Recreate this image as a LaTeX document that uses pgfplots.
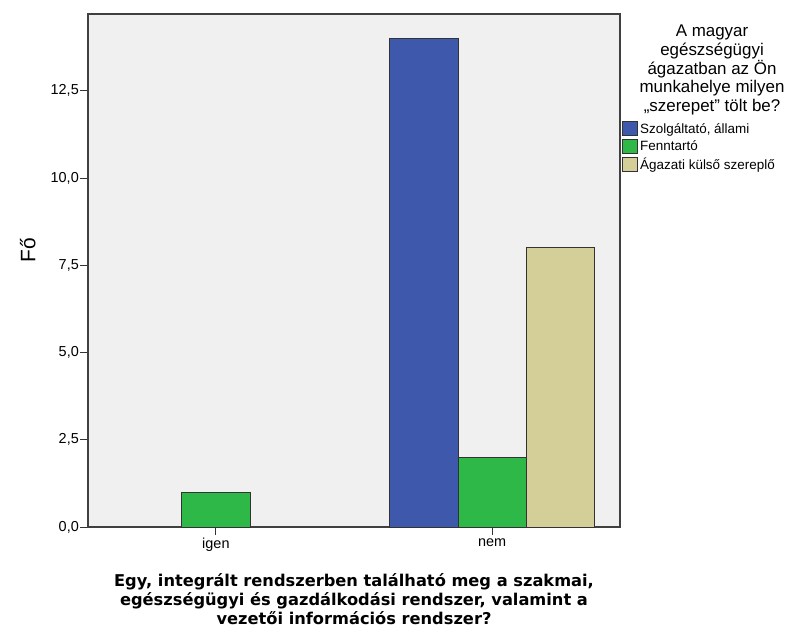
\documentclass[border=0pt]{standalone}
\usepackage{fontspec}
\setmainfont{Liberation Sans}
\newfontfamily\dejavu{DejaVu Sans}
\usepackage{pgfplots}
\pgfplotsset{compat=1.18}
\definecolor{sblue}{HTML}{3E58AC}
\definecolor{sgreen}{HTML}{2EB848}
\definecolor{sbeige}{HTML}{D4CF98}
\definecolor{sbg}{HTML}{F0F0F0}
\begin{document}
\begin{tikzpicture}
\begin{axis}[
    name=ax,
    width=532bp, height=513bp, scale only axis,
    ybar=0pt, bar width=0.247,
    xmin=-0.463, xmax=1.463,
    ymin=0, ymax=14.7,
    xtick={0,1}, xticklabels={igen,nem},
    ytick={0,2.5,5,7.5,10,12.5},
    tick align=outside, xtick pos=bottom, ytick pos=left,
    major tick length=8bp,
    tick style={black!80, line width=0.8bp},
    axis line style={black!75, line width=1.2bp},
    axis background/.style={fill=sbg},
    ticklabel style={font=\fontsize{14.5}{16}\selectfont},
    y tick label style={inner sep=1bp, /pgf/number format/.cd, fixed, fixed zerofill, precision=1, use comma, assume math mode=true},
    ylabel={Fő},
    ylabel style={at={(axis description cs:-0.113,0.54)}, anchor=center, font=\fontsize{21}{24}\selectfont},
    xlabel={Egy, integrált rendszerben található meg a szakmai,\\egészségügyi és gazdálkodási rendszer, valamint a\\vezetői információs rendszer?},
    xlabel style={at={(axis description cs:0.5,0)}, anchor=north, yshift=-46bp, inner sep=0pt, align=center,
        font=\dejavu\bfseries\fontsize{16.3}{19}\selectfont},
    clip=false,
    legend style={at={(rel axis cs:1.004,0.7915)}, anchor=north west, draw=none, fill=none,
        inner sep=0pt, row sep=2.2bp, font=\fontsize{13.5}{15}\selectfont,
        /tikz/every even column/.append style={column sep=1bp}},
    legend cell align=left,
    legend image code/.code={\draw[#1] (0bp,-7bp) rectangle (15bp,7bp);},
]
    % Szolgáltató, állami
    \addplot[fill=sblue, draw=black!80, line width=0.9bp] coordinates {(1,14)};
    % Fenntartó
    \addplot[fill=sgreen, draw=black!80, line width=0.9bp] coordinates {(0,1) (1,2)};
    % Ágazati külső szereplő
    \addplot[fill=sbeige, draw=black!80, line width=0.9bp] coordinates {(1,8)};
    \legend{{Szolgáltató, állami}, Fenntartó, Ágazati külső szereplő}
    \node[anchor=north, align=center, inner sep=0pt, font=\fontsize{17}{18.7}\selectfont]
        at (rel axis cs:1.173,0.9786)
        {A magyar\\egészségügyi\\ágazatban az Ön\\munkahelye milyen\\„szerepet” tölt be?};
\end{axis}
\path (ax.south west) ++(-88bp,-101bp) rectangle ++(785bp,628bp);
\end{tikzpicture}
\end{document}
